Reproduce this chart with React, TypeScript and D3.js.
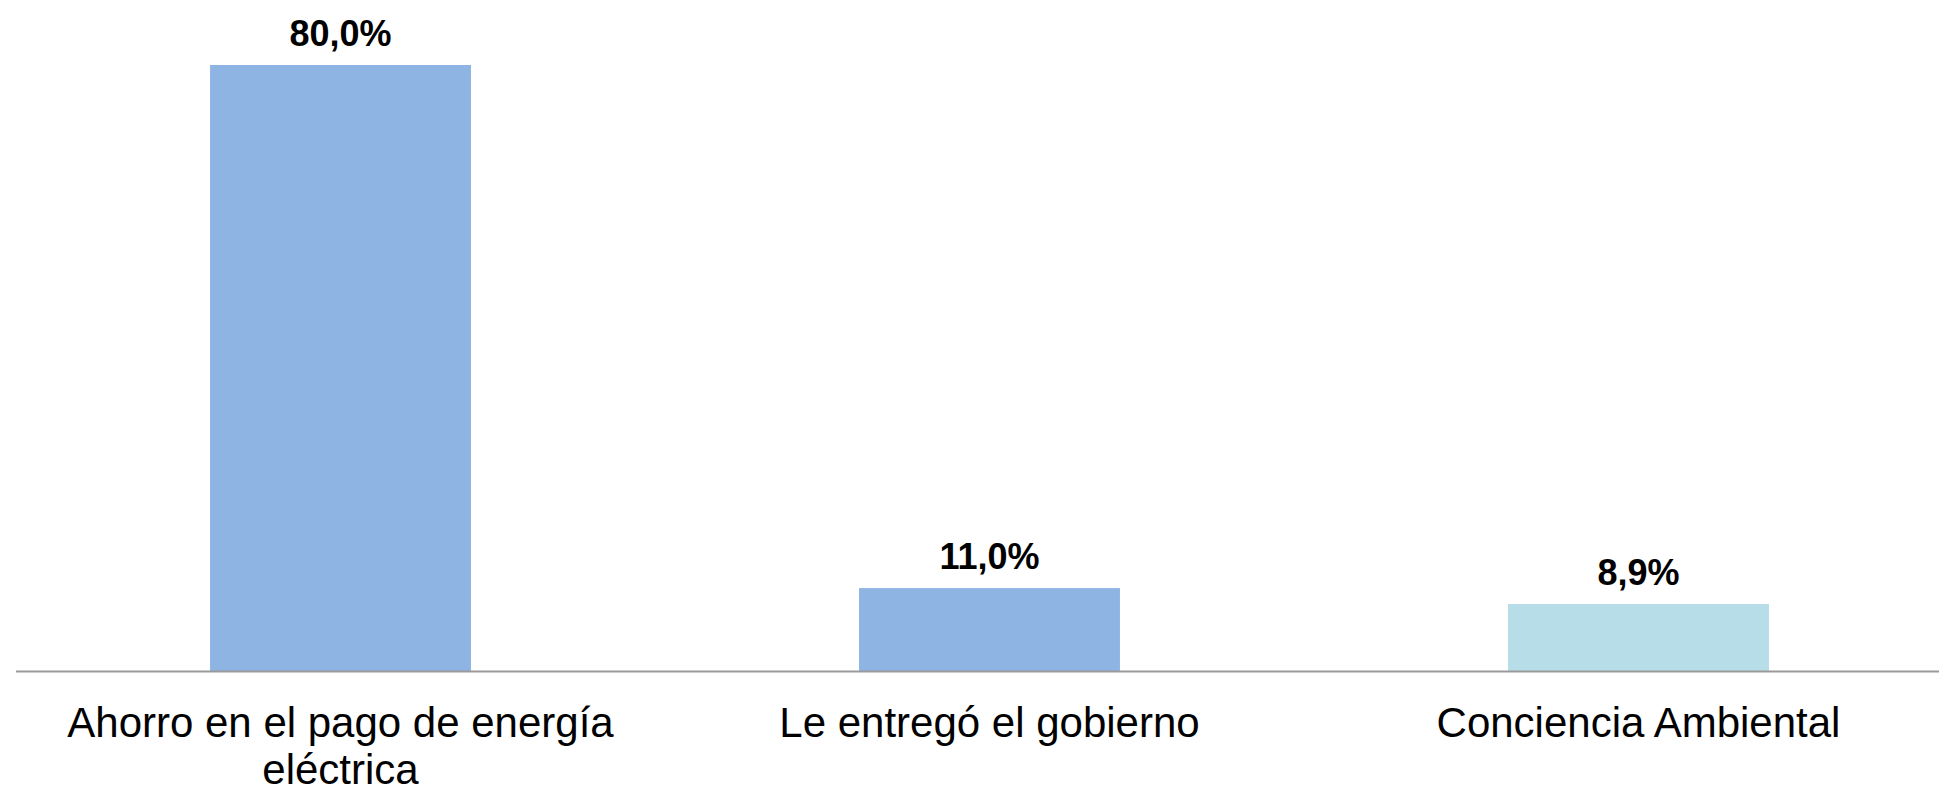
import React, { useEffect, useRef } from "react";
import * as d3 from "d3";

const categories: string[] = [
  "Ahorro en el pago de energía eléctrica",
  "Le entregó el gobierno",
  "Conciencia Ambiental",
];
const values: number[] = [80.0, 11.0, 8.9];
const colors: string[] = ["#8EB4E3", "#8EB4E3", "#B7DDE8"];

const W = 1939;
const H = 788;

export default function App() {
  const ref = useRef<SVGSVGElement | null>(null);

  useEffect(() => {
    const svg = d3.select(ref.current);
    svg.selectAll("*").remove();

    const x = d3
      .scaleBand<string>()
      .domain(categories)
      .range([16, 1963])
      .paddingInner(0.598)
      .paddingOuter(0.299);
    const y = d3.scaleLinear().domain([0, 80]).range([671.5, 65]);

    const font = "'Liberation Sans', Arial, sans-serif";

    svg
      .selectAll("rect.bar")
      .data(values)
      .join("rect")
      .attr("class", "bar")
      .attr("x", (_d, i) => x(categories[i])!)
      .attr("width", x.bandwidth())
      .attr("y", (d) => y(d))
      .attr("height", (d) => y(0) - y(d))
      .attr("fill", (_d, i) => colors[i]);

    svg
      .append("line")
      .attr("x1", 16)
      .attr("x2", W)
      .attr("y1", y(0))
      .attr("y2", y(0))
      .attr("stroke", "#9a9a9a")
      .attr("stroke-width", 1.8);

    svg
      .selectAll("text.val")
      .data(values)
      .join("text")
      .attr("class", "val")
      .attr("x", (_d, i) => x(categories[i])! + x.bandwidth() / 2)
      .attr("y", (d) => y(d) - 19)
      .attr("text-anchor", "middle")
      .attr("font-family", font)
      .attr("font-weight", "bold")
      .attr("font-size", 36)
      .attr("fill", "#000")
      .text((d) => d.toFixed(1).replace(".", ",") + "%");

    const maxW = 600;
    categories.forEach((c) => {
      const cx = x(c)! + x.bandwidth() / 2;
      const t = svg
        .append("text")
        .attr("x", cx)
        .attr("y", 737)
        .attr("text-anchor", "middle")
        .attr("font-family", font)
        .attr("font-size", 42)
        .attr("fill", "#000");
      const words = c.split(" ");
      let line: string[] = [];
      let lineNo = 0;
      let tspan = t.append("tspan").attr("x", cx).attr("dy", 0);
      words.forEach((w) => {
        line.push(w);
        tspan.text(line.join(" "));
        const node = tspan.node() as SVGTSpanElement;
        if (node.getComputedTextLength() > maxW && line.length > 1) {
          line.pop();
          tspan.text(line.join(" "));
          line = [w];
          lineNo++;
          tspan = t.append("tspan").attr("x", cx).attr("dy", 47).text(w);
        }
      });
    });
  }, []);

  return (
    <div style={{ position: "fixed", left: 0, top: 0, width: W, height: H, background: "#fff" }}>
      <svg ref={ref} width={W} height={H} style={{ display: "block" }} />
    </div>
  );
}
